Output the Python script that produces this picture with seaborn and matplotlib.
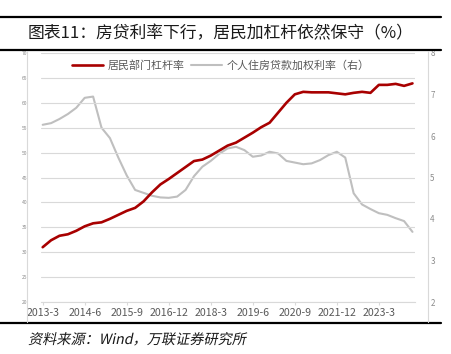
import pandas as pd
import seaborn as sns
import matplotlib.pyplot as plt
from matplotlib.lines import Line2D
from matplotlib.textpath import TextPath
from matplotlib.patches import PathPatch
from matplotlib.font_manager import FontProperties
from matplotlib.transforms import Affine2D

# Quarterly categories, 2013-3 .. 2024-3
quarters = [f"{y}-{m}" for y in range(2013, 2025) for m in (3, 6, 9, 12)][:45]

# Household sector leverage ratio (%, left axis)
leverage = [31.0, 32.4, 33.3, 33.6, 34.3, 35.2, 35.8, 36.0, 36.7, 37.5,
            38.3, 38.9, 40.2, 42.0, 43.6, 44.7, 45.9, 47.1, 48.3, 48.6,
            49.4, 50.4, 51.4, 52.0, 53.0, 54.0, 55.1, 56.0, 58.0, 60.0,
            61.7, 62.2, 62.1, 62.1, 62.1, 61.9, 61.7, 62.0, 62.2, 62.0,
            63.6, 63.6, 63.8, 63.4, 63.9]

# Weighted average mortgage rate (%, right axis)
mortgage_rate = [6.27, 6.31, 6.41, 6.53, 6.68, 6.92, 6.95, 6.20, 5.95, 5.48,
                 5.05, 4.70, 4.63, 4.56, 4.52, 4.51, 4.54, 4.70, 5.03, 5.26,
                 5.40, 5.57, 5.70, 5.74, 5.66, 5.50, 5.53, 5.62, 5.58, 5.40,
                 5.36, 5.32, 5.34, 5.42, 5.54, 5.62, 5.48, 4.62, 4.35, 4.24,
                 4.14, 4.10, 4.02, 3.95, 3.69]

label_left = "居民部门杠杆率"
label_right = "个人住房贷款加权利率（右）"
title = "图表11：房贷利率下行，居民加杠杆依然保守（%）"
source = "资料来源：Wind，万联证券研究所"

df = pd.DataFrame({"idx": range(len(quarters)), "quarter": quarters,
                   "leverage": leverage, "rate": mortgage_rate})

sns.set_theme(style="white")
plt.rcParams["font.family"] = ["Noto Sans CJK SC", "DejaVu Sans"]

W, H = 451, 354
fig = plt.figure(figsize=(W / 100, H / 100), dpi=100)
ax = fig.add_axes([41 / W, 1 - 302 / H, 374 / W, 249 / H])
ax2 = ax.twinx()

red = "#A80000"
grey = "#BFBFBF"
sns.lineplot(data=df, x="idx", y="leverage", ax=ax, color=red, linewidth=1.9, zorder=3)
sns.lineplot(data=df, x="idx", y="rate", ax=ax2, color=grey, linewidth=1.5)

ax.set_ylim(20, 70)
ax.set_yticks(range(20, 75, 5))
ax2.set_ylim(2, 8)
ax2.set_yticks(range(2, 9))
ax.set_xlim(-0.2, 44.3)
ax.set_xticks(df["idx"][::5])
ax.set_xticklabels(df["quarter"][::5])
ax.grid(axis="y", color="#D9D9D9", linewidth=0.8)
ax.set_axisbelow(True)
ax.set_xlabel("")
ax.set_ylabel("")
ax2.set_ylabel("")

for a in (ax, ax2):
    for s in a.spines.values():
        s.set_visible(False)
ax.spines["bottom"].set_visible(True)
ax.spines["bottom"].set_color("#D9D9D9")
ax.spines["bottom"].set_linewidth(0.8)

ax.tick_params(axis="x", bottom=True, length=2.5, width=0.8, color="#D9D9D9",
               labelsize=7.6, labelcolor="#595959", pad=1.5)
ax.tick_params(axis="y", left=False, labelsize=3.6, labelcolor="#8C8C8C", pad=4)
ax2.tick_params(axis="y", right=False, labelsize=5.8, labelcolor="#8C8C8C", pad=5)

# put the red line above the twin axis
ax.set_zorder(ax2.get_zorder() + 1)
ax.patch.set_visible(False)

handles = [Line2D([], [], color=red, linewidth=1.9), Line2D([], [], color=grey, linewidth=1.5)]
ax.legend(handles, [label_left, label_right], loc="center", bbox_to_anchor=(0.481, 0.95),
          ncol=2, frameon=False, fontsize=7.9, labelcolor="#595959",
          handlelength=2.8, handletextpad=0.45, columnspacing=0.6)

# header / footer rules and chart frame
for yp in (17, 50, 323):
    fig.add_artist(Line2D([0, 441 / W], [1 - yp / H] * 2, color="black", linewidth=1.6))
for xp in (27, 428):
    fig.add_artist(Line2D([xp / W] * 2, [1 - 51 / H, 1 - 322 / H], color="#D9D9D9", linewidth=0.8))

fig.text(28 / W, 1 - 34 / H, title, fontsize=12.1, va="center", ha="left", color="#1A1A1A")

# italic-looking source line
fp = FontProperties(family=["Noto Sans CJK SC", "DejaVu Sans"])
tp = TextPath((0, 0), source, size=10.2, prop=fp)
tr = Affine2D().skew_deg(12, 0).scale(1 / 72).translate(28 / 100, (H - 344) / 100) + fig.dpi_scale_trans
fig.add_artist(PathPatch(tp, transform=tr, facecolor="#1A1A1A", edgecolor="none"))

fig.savefig("out.png", dpi=100)
